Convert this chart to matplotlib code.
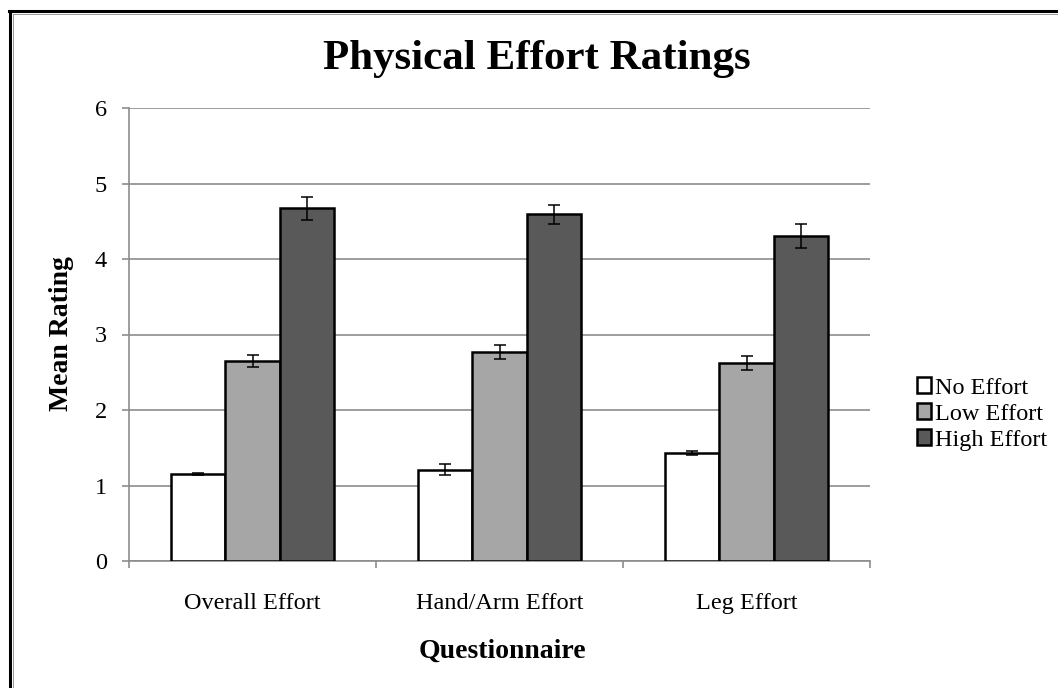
import matplotlib
matplotlib.use("Agg")
import matplotlib.pyplot as plt
import numpy as np
from matplotlib.patches import Patch
from matplotlib.lines import Line2D

categories = ["Overall Effort", "Hand/Arm Effort", "Leg Effort"]
series_names = ["No Effort", "Low Effort", "High Effort"]
no_effort = [1.15, 1.21, 1.43]
low_effort = [2.65, 2.77, 2.62]
high_effort = [4.67, 4.59, 4.30]
no_err = [0.01, 0.07, 0.03]
low_err = [0.08, 0.09, 0.09]
high_err = [0.15, 0.13, 0.16]
yticks = [0, 1, 2, 3, 4, 5, 6]

colors = ["#FFFFFF", "#A6A6A6", "#595959"]
grid_col = "#8C8C8C"

plt.rcParams['font.family'] = ['Liberation Serif', 'DejaVu Serif']

W, H = 1058, 688
fig = plt.figure(figsize=(W / 100, H / 100), dpi=100)
ax = fig.add_axes([129 / W, 1 - 561 / H, (870 - 129) / W, (561 - 108) / H])

x = np.arange(len(categories))
bw = 0.221
vals = [no_effort, low_effort, high_effort]
errs = [no_err, low_err, high_err]
for i, (v, e, c, n) in enumerate(zip(vals, errs, colors, series_names)):
    ax.bar(x + (i - 1) * bw, v, width=bw, color=c, edgecolor="black",
           linewidth=1.8, zorder=3, label=n)
    ax.errorbar(x + (i - 1) * bw, v, yerr=e, fmt="none", ecolor="black",
                elinewidth=1.1, capsize=4.3, capthick=1.1, zorder=4)

ax.set_xlim(-0.5, 2.5)
ax.set_ylim(0, 6)
ax.set_yticks(yticks)
ax.set_yticklabels([str(t) for t in yticks], fontsize=17.5)
ax.yaxis.grid(True, color=grid_col, linewidth=1.2, zorder=0)
ax.set_axisbelow(True)

ax.set_xticks(x)
ax.set_xticklabels(categories, fontsize=17.5)
ax.set_xticks([-0.5, 0.5, 1.5, 2.5], minor=True)
ax.tick_params(axis="x", which="major", length=0, pad=23)
ax.tick_params(axis="x", which="minor", length=5, width=1.2, color=grid_col, direction="out")
ax.tick_params(axis="y", which="major", length=5, width=1.2, color=grid_col, direction="out", pad=11)

for s in ["top", "right"]:
    ax.spines[s].set_visible(False)
for s in ["left", "bottom"]:
    ax.spines[s].set_color(grid_col)
    ax.spines[s].set_linewidth(1.2)

fig.text(537 / W, 1 - 69 / H, "Physical Effort Ratings", fontsize=31,
         fontweight="bold", ha="center", va="baseline")
fig.text(502 / W, 1 - 658 / H, "Questionnaire", fontsize=20,
         fontweight="bold", ha="center", va="baseline")
fig.text(61 / W, 1 - 334 / H, "Mean Rating", fontsize=20, fontweight="bold",
         ha="center", va="center", rotation=90)

handles = [Patch(facecolor=c, edgecolor="black", linewidth=1.8) for c in colors]
fig.legend(handles, series_names, loc="center left",
           bbox_to_anchor=(917 / W, 1 - 414 / H), frameon=False, fontsize=17.5,
           handlelength=0.58, handleheight=0.58, handletextpad=0.15,
           labelspacing=0.2, borderpad=0, borderaxespad=0)

# outer frame (double line: black + thin gray)
fig.add_artist(Line2D([9 / W, 1], [1 - 11 / H, 1 - 11 / H], color="black", linewidth=2.2, transform=fig.transFigure))
fig.add_artist(Line2D([10 / W, 10 / W], [0, 1 - 11 / H], color="black", linewidth=2.2, transform=fig.transFigure))
fig.add_artist(Line2D([12.5 / W, 1], [1 - 13.5 / H, 1 - 13.5 / H], color="#9A9A9A", linewidth=0.7, transform=fig.transFigure))
fig.add_artist(Line2D([12.5 / W, 12.5 / W], [0, 1 - 13.5 / H], color="#9A9A9A", linewidth=0.7, transform=fig.transFigure))

fig.savefig("out.png", dpi=100)
